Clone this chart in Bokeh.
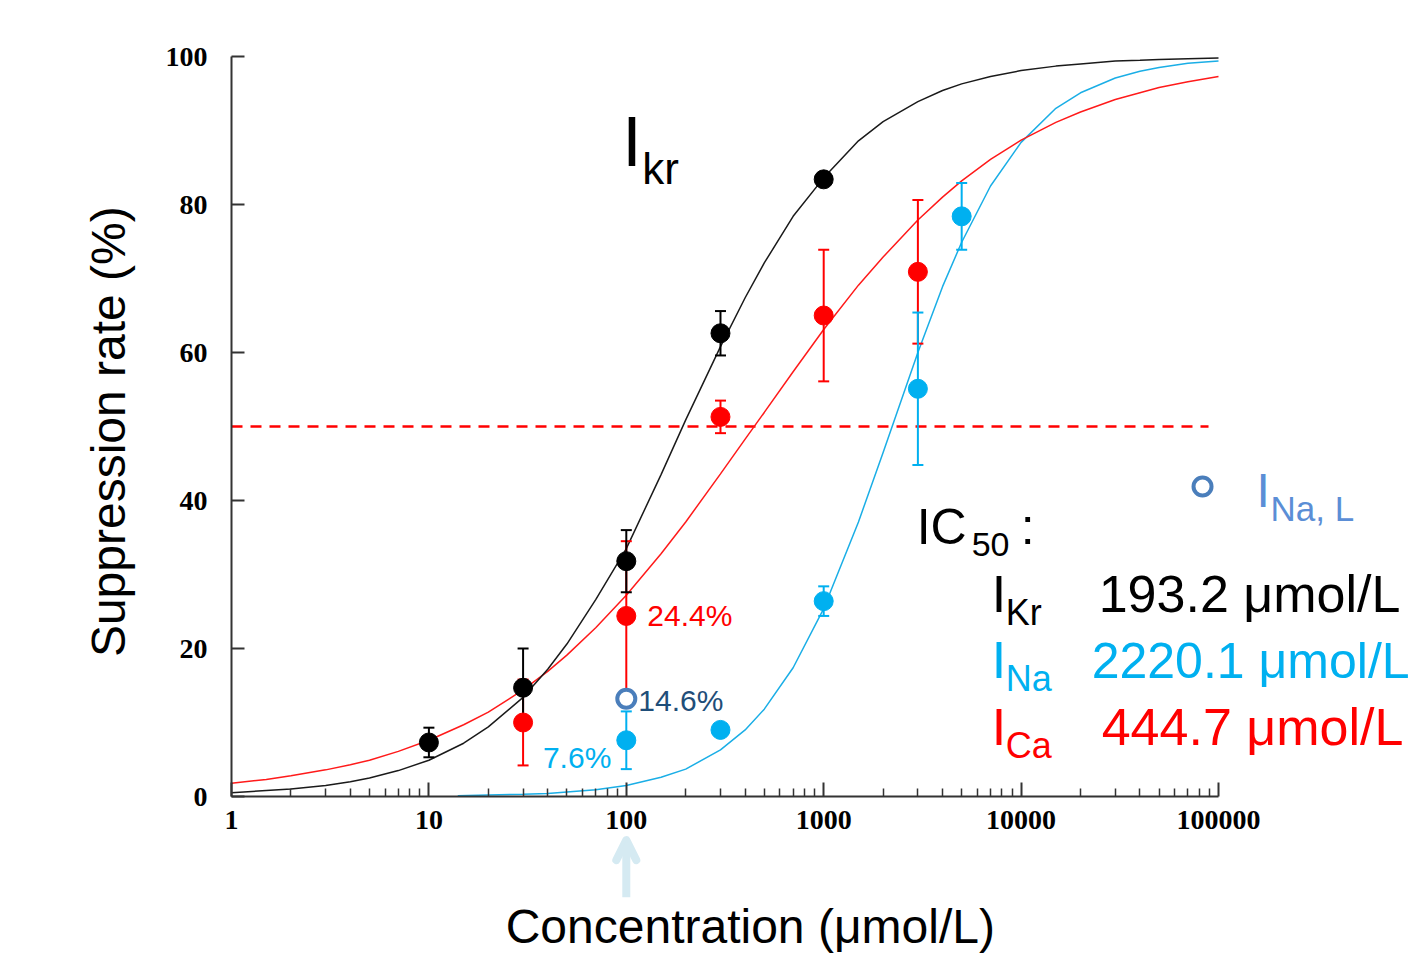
import math
from bokeh.plotting import figure
from bokeh.models import Range1d, FixedTicker, Label, Arrow, OpenHead
from bokeh.embed import file_html
from bokeh.resources import INLINE

# ---------------- data ----------------
curve_conc = [1, 1.5, 2, 3, 4, 5, 7, 10, 15, 20, 30, 40, 50, 70, 100, 150, 200, 300, 400, 500,
              700, 1000, 1500, 2000, 3000, 4000, 5000, 7000, 10000, 15000, 20000, 30000, 40000,
              50000, 70000, 100000]
ikr_fit = [0.5, 0.8, 1.0, 1.5, 2.0, 2.5, 3.5, 4.9, 7.2, 9.4, 13.4, 17.2, 20.6, 26.6, 33.5, 43.5,
           50.9, 60.8, 67.4, 72.1, 78.4, 83.6, 88.6, 91.2, 93.9, 95.4, 96.3, 97.3, 98.1, 98.7,
           99.0, 99.4, 99.5, 99.6, 99.7, 99.8]
ica_fit = [1.8, 2.3, 2.8, 3.6, 4.3, 4.9, 6.1, 7.6, 9.7, 11.4, 14.4, 16.9, 19.1, 22.8, 27.2, 32.8,
           37.1, 43.6, 48.3, 51.9, 57.4, 63.1, 69.1, 72.9, 77.9, 81.0, 83.2, 86.1, 88.7, 91.1,
           92.5, 94.2, 95.1, 95.8, 96.6, 97.3]
ina_curve_conc = [14, 20, 30, 40, 50, 70, 100, 150, 200, 300, 400, 500, 700, 1000, 1500, 2000,
                  3000, 4000, 5000, 7000, 10000, 15000, 20000, 30000, 40000, 50000, 70000, 100000]
ina_fit = [0.1, 0.2, 0.3, 0.4, 0.6, 0.9, 1.5, 2.6, 3.7, 6.3, 9.0, 11.8, 17.4, 25.4, 37.1, 46.5,
           60.0, 68.9, 74.9, 82.5, 88.4, 93.0, 95.1, 97.1, 98.0, 98.5, 99.1, 99.4]

kr_conc = [10, 30, 100, 300, 1000]
kr_mean = [7.3, 14.7, 31.8, 62.6, 83.4]
kr_sd = [2.0, 5.3, 4.2, 3.0, 0.8]

ca_conc = [30, 100, 300, 1000, 3000]
ca_mean = [10.0, 24.4, 51.3, 65.0, 70.9]
ca_sd = [5.8, 10.1, 2.2, 8.9, 9.7]

na_conc = [100, 300, 1000, 3000, 5000]
na_mean = [7.6, 9.0, 26.4, 55.1, 78.4]
na_sd = [3.9, 0.7, 2.0, 10.3, 4.5]

nal_conc = [100]
nal_mean = [13.2]

threshold = 50
threshold_conc = [1, 89000]

x_ticks = [1, 10, 100, 1000, 10000, 100000]
x_tick_labels = ["1", "10", "100", "1000", "10000", "100000"]
y_ticks = [0, 20, 40, 60, 80, 100]

ic50_names = [("I", "Kr"), ("I", "Na"), ("I", "Ca")]
ic50_values = ["193.2 μmol/L", "2220.1 μmol/L", "444.7 μmol/L"]

# ---------------- style ----------------
BLACK = "#000000"
RED = "#ff0000"
CYAN = "#00b0f0"
NAL_RING = "#4a7ebb"
NAL_TEXT = "#5b8ed6"
DARKBLUE = "#1f4e79"
ARROW = "#d5eaf2"
SANS = "Liberation Sans"

W, H = 1414, 956
X0, DEC = 231, 197.4          # pixel of x=1, pixels per decade
Y0, PPU = 796, 7.4            # pixel of y=0, pixels per unit
x_rng = Range1d(10 ** (-X0 / DEC), 10 ** ((W - X0) / DEC))
y_rng = Range1d(-(H - Y0) / PPU, Y0 / PPU)

p = figure(width=W, height=H, x_axis_type="log", x_range=x_rng, y_range=y_rng,
           output_backend="svg", toolbar_location=None,
           min_border_left=0, min_border_right=0, min_border_top=0, min_border_bottom=0)
p.outline_line_color = None
p.grid.visible = False
p.background_fill_color = "white"

# axes (drawn inside the frame at x=1 / y=0)
xa = p.xaxis[0]
xa.fixed_location = 0
xa.ticker = FixedTicker(ticks=x_ticks,
                        minor_ticks=[m * 10 ** d for d in range(5) for m in range(2, 10)])
xa.major_label_overrides = {t: l for t, l in zip(x_ticks, x_tick_labels)}
xa.bounds = (1, 100000)
xa.major_tick_in = 14
xa.major_tick_out = 0
xa.minor_tick_in = 8
xa.minor_tick_out = 0
xa.major_label_standoff = 14
xa.minor_tick_line_color = "#333333"

ya = p.yaxis[0]
ya.fixed_location = 1
ya.ticker = FixedTicker(ticks=y_ticks, minor_ticks=[])
ya.bounds = (0, 100)
ya.major_tick_in = 13
ya.major_tick_out = 0
ya.minor_tick_line_color = None
ya.major_label_standoff = 24

for ax in (xa, ya):
    ax.axis_line_width = 2
    ax.axis_line_color = "#333333"
    ax.major_tick_line_width = 2
    ax.major_tick_line_color = "#333333"
    ax.minor_tick_line_width = 1.5
    ax.major_label_text_font = "Liberation Serif"
    ax.major_label_text_font_style = "bold"
    ax.major_label_text_font_size = "28px"
    ax.major_label_text_color = BLACK

# threshold line
p.line(threshold_conc, [threshold] * len(threshold_conc), line_color=RED, line_width=2.5,
       line_dash="11 8")

# fitted curves
p.line(ina_curve_conc, ina_fit, line_color="#1aaee6", line_width=1.5)
p.line(curve_conc, ica_fit, line_color="#ff1a1a", line_width=1.5)
p.line(curve_conc, ikr_fit, line_color="#1a1a1a", line_width=1.5)


def errorbars(xs, m, s, color):
    lo = [a - b for a, b in zip(m, s)]
    hi = [a + b for a, b in zip(m, s)]
    p.segment(xs, lo, xs, hi, line_color=color, line_width=2)
    p.scatter(xs, lo, marker="dash", size=11, line_color=color, line_width=2)
    p.scatter(xs, hi, marker="dash", size=11, line_color=color, line_width=2)


errorbars(ca_conc, ca_mean, ca_sd, RED)
errorbars(na_conc, na_mean, na_sd, CYAN)
errorbars(kr_conc, kr_mean, kr_sd, BLACK)

p.scatter(ca_conc, ca_mean, size=19, fill_color=RED, line_color=RED)
p.scatter(na_conc, na_mean, size=19, fill_color=CYAN, line_color=CYAN)
p.scatter(nal_conc, nal_mean, size=18, fill_color="white", line_color=NAL_RING, line_width=4)
p.scatter(kr_conc, kr_mean, size=19, fill_color=BLACK, line_color=BLACK)


def lab(x, y, text, size, color, dx=0, align="left", angle=0.0, baseline="alphabetic"):
    # small upward correction so that the glyph baseline lands on y
    corr = 0.37 * size / PPU if baseline == "alphabetic" else 0.0
    p.add_layout(Label(x=x, y=y + corr, x_offset=dx, text=text, text_font=SANS,
                       text_font_size=f"{size}px", text_color=color, text_align=align,
                       text_baseline=baseline, angle=angle))


# percentage labels next to the 100 µmol/L points
lab(100, 22.9, "24.4%", 30, RED, dx=21)
lab(100, 11.5, "14.6%", 30, DARKBLUE, dx=12)
lab(100, 3.8, "7.6%", 30, CYAN, dx=-15, align="right")

# I_kr title
lab(100, 84.9, "I", 70, BLACK, dx=-4)
lab(100, 82.6, "kr", 44, BLACK, dx=16)

# IC50 block
lab(1000, 33.9, "IC", 50, BLACK, dx=93)
lab(1000, 32.3, "50", 34, BLACK, dx=148)
lab(1000, 33.9, ":", 50, BLACK, dx=197)
row_colors = [BLACK, CYAN, RED]
row_base = [24.7, 15.8, 6.8]
row_value_dx = [275, 268, 278]
row_value_size = [52, 50, 52]
for (big, sub), val, col, yb, vdx, vs in zip(ic50_names, ic50_values, row_colors, row_base,
                                             row_value_dx, row_value_size):
    lab(1000, yb, big, 52, col, dx=168)
    lab(1000, yb - 1.65, sub, 36, col, dx=182)
    lab(1000, yb, val, vs, col, dx=vdx)

# I_Na,L legend
nal_legend_conc = [83000]
nal_legend_y = [41.9]
p.scatter(nal_legend_conc, nal_legend_y, size=18, fill_color="white", line_color=NAL_RING,
          line_width=4)
lab(100000, 38.9, "I", 48, NAL_TEXT, dx=38)
lab(100000, 37.2, "Na, L", 35, NAL_TEXT, dx=52)

# axis titles
lab(100, -19.9, "Concentration (μmol/L)", 48, BLACK, dx=124, align="center")
lab(0.237, 49.3, "Suppression rate (%)", 48, BLACK, align="center", angle=math.pi / 2,
    baseline="middle")

# arrow below the x axis
p.add_layout(Arrow(end=OpenHead(size=20, line_color=ARROW, line_width=8, line_cap="round",
                                line_join="round"),
                   x_start=100, y_start=-13.6, x_end=100, y_end=-5.9,
                   line_color=ARROW, line_width=8))

open("out.html", "w").write(file_html(p, INLINE))
